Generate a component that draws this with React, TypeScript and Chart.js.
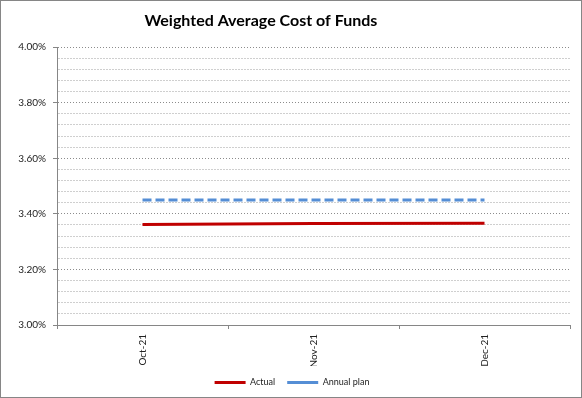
import React, { useEffect, useRef } from "react";
import { Chart, registerables } from "chart.js";

Chart.register(...registerables);

const categories = ["Oct-21", "Nov-21", "Dec-21"];
const actualValues = [3.362, 3.365, 3.366];
const planValues = [3.45, 3.45, 3.45];
const yMin = 3.0;
const yMax = 4.0;
const yStep = 0.04;
const titleText = "Weighted Average Cost of Funds";

const FONT = "Lato, 'Noto Sans', sans-serif";

const isMajor = (v: number) => Math.round(v * 100) % 20 === 0;

export default function App() {
  const ref = useRef<HTMLCanvasElement | null>(null);

  useEffect(() => {
    document.body.style.margin = "0";
    const canvas = ref.current;
    if (!canvas) return;
    const chart = new Chart(canvas, {
      type: "line",
      data: {
        labels: categories,
        datasets: [
          {
            label: "Actual",
            data: actualValues,
            borderColor: "#C00000",
            backgroundColor: "#C00000",
            borderWidth: 3,
            pointRadius: 0,
            tension: 0,
          },
          {
            label: "Annual plan",
            data: planValues,
            borderColor: "#558ED5",
            backgroundColor: "#558ED5",
            borderWidth: 3,
            borderDash: [9, 4],
            pointRadius: 0,
            tension: 0,
          },
        ],
      },
      options: {
        animation: false,
        responsive: true,
        maintainAspectRatio: false,
        layout: { padding: { left: 13, right: 11, top: 0, bottom: 0 } },
        plugins: {
          title: {
            display: true,
            text: titleText + "\u00A0".repeat(16),
            color: "#000",
            font: { family: FONT, size: 16, weight: "bold" },
            padding: { top: 10, bottom: 17 },
          },
          legend: {
            position: "bottom",
            labels: {
              usePointStyle: true,
              pointStyle: "line",
              pointStyleWidth: 31,
              boxWidth: 31,
              padding: 12,
              color: "#222",
              font: { family: FONT, size: 9 },
            },
          },
          tooltip: { enabled: false },
        },
        scales: {
          x: {
            offset: true,
            grid: {
              offset: true,
              drawOnChartArea: false,
              drawTicks: true,
              tickLength: 4,
              tickColor: "#868686",
            },
            border: { display: true, color: "#868686", width: 1 },
            ticks: {
              minRotation: 90,
              maxRotation: 90,
              padding: 5,
              color: "#222",
              font: { family: FONT, size: 10 },
            },
            afterFit: (scale: any) => {
              scale.height = 41;
            },
          },
          y: {
            min: yMin,
            max: yMax,
            grid: {
              color: (ctx: any) =>
                ctx.tick && isMajor(ctx.tick.value) ? "#8c8c8c" : "#cfcfcf",
              lineWidth: 1,
              tickLength: 4,
              tickColor: (ctx: any) =>
                ctx.tick && isMajor(ctx.tick.value) ? "#868686" : "rgba(0,0,0,0)",
              tickBorderDash: [],
            },
            border: {
              display: true,
              color: "#868686",
              width: 1,
              dash: (ctx: any) =>
                ctx.tick && isMajor(ctx.tick.value) ? [1, 2] : [2, 1],
            },
            ticks: {
              stepSize: yStep,
              autoSkip: false,
              padding: 7,
              color: "#222",
              font: { family: FONT, size: 10 },
              callback: (v: any) => (isMajor(Number(v)) ? Number(v).toFixed(2) + "%" : ""),
            },
            afterFit: (scale: any) => {
              scale.width = 43;
            },
          },
        },
      },
    });
    return () => chart.destroy();
  }, []);

  return (
    <div
      style={{
        position: "absolute",
        left: 0,
        top: 0,
        width: 582,
        height: 398,
        boxSizing: "border-box",
        border: "1px solid #868686",
        background: "#fff",
      }}
    >
      <div style={{ position: "relative", width: 580, height: 396 }}>
        <canvas ref={ref} />
      </div>
    </div>
  );
}
